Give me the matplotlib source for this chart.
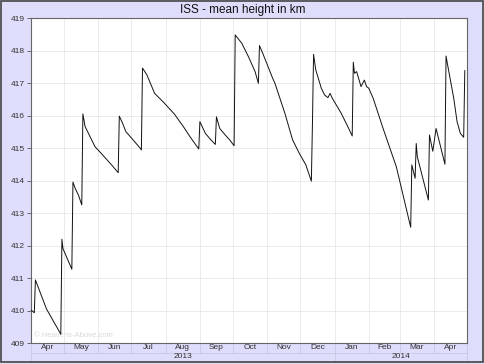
import matplotlib
matplotlib.use("Agg")
import matplotlib.pyplot as plt
import matplotlib.dates as mdates
import matplotlib.transforms as mtransforms
from matplotlib.patches import Rectangle
import numpy as np
import pandas as pd

dates = [
    "2013-04-01", "2013-04-04", "2013-04-05", "2013-04-15", "2013-04-28",
    "2013-04-29", "2013-04-30", "2013-05-08", "2013-05-09", "2013-05-11",
    "2013-05-14", "2013-05-17", "2013-05-18", "2013-05-20", "2013-05-29",
    "2013-06-04", "2013-06-13", "2013-06-19", "2013-06-20", "2013-06-23",
    "2013-06-26", "2013-07-03", "2013-07-09", "2013-07-10", "2013-07-11",
    "2013-07-15", "2013-07-22", "2013-07-30", "2013-08-09", "2013-08-17",
    "2013-08-23", "2013-08-31", "2013-09-01", "2013-09-06", "2013-09-11",
    "2013-09-15", "2013-09-16", "2013-09-19", "2013-09-24", "2013-09-28",
    "2013-10-02", "2013-10-03", "2013-10-09", "2013-10-15", "2013-10-21",
    "2013-10-24", "2013-10-25", "2013-10-28", "2013-11-06", "2013-11-08",
    "2013-11-17", "2013-11-24", "2013-11-30", "2013-12-06", "2013-12-11",
    "2013-12-12", "2013-12-13", "2013-12-15", "2013-12-20", "2013-12-23",
    "2013-12-26", "2013-12-28", "2013-12-30", "2014-01-07", "2014-01-13",
    "2014-01-17", "2014-01-18", "2014-01-19", "2014-01-21", "2014-01-25",
    "2014-01-28", "2014-01-30", "2014-02-01", "2014-02-05", "2014-02-14",
    "2014-02-26", "2014-03-11", "2014-03-12", "2014-03-15", "2014-03-16",
    "2014-03-17", "2014-03-27", "2014-03-28", "2014-03-31", "2014-04-03",
    "2014-04-11", "2014-04-12", "2014-04-14", "2014-04-19", "2014-04-22",
    "2014-04-25", "2014-04-28", "2014-04-29",
]
heights = [
    410.02, 409.93, 410.94, 410.05, 409.27,
    412.19, 411.90, 411.27, 413.95, 413.76,
    413.55, 413.25, 416.05, 415.66, 415.04,
    414.82, 414.48, 414.24, 415.98, 415.76,
    415.50, 415.23, 414.99, 414.94, 417.46,
    417.25, 416.68, 416.41, 416.04, 415.66,
    415.35, 414.97, 415.81, 415.45, 415.25,
    415.11, 415.96, 415.60, 415.40, 415.25,
    415.07, 418.48, 418.22, 417.81, 417.35,
    416.99, 418.15, 417.91, 417.14, 416.99,
    416.07, 415.25, 414.84, 414.48, 413.98,
    415.80, 417.88, 417.40, 416.84, 416.63,
    416.55, 416.68, 416.53, 416.07, 415.66,
    415.37, 417.64, 417.30, 417.35, 416.89,
    417.09, 416.89, 416.84, 416.53, 415.60,
    414.42, 412.56, 414.48, 414.07, 415.14,
    414.73, 413.40, 415.40, 414.90, 415.60,
    414.50, 417.83, 417.45, 416.53, 415.81,
    415.45, 415.33, 417.38,
]
month_labels = ["Apr", "May", "Jun", "Jul", "Aug", "Sep", "Oct", "Nov",
                "Dec", "Jan", "Feb", "Mar", "Apr"]
year_labels = ["2013", "2014"]
y_ticks = list(range(409, 420))
title = "ISS - mean height in km"
watermark = "\u00a9 Heavens-Above.com"

plt.rcParams['font.family'] = ['Liberation Sans', 'DejaVu Sans']

W, H = 485, 364
fig = plt.figure(figsize=(W / 100, H / 100), dpi=100)
bg = '#dedefc'
fig.patch.set_facecolor(bg)

l, r, t, b = 31, 467, 18, 343
ax = fig.add_axes([l / W, 1 - b / H, (r - l) / W, (b - t) / H])
ax.set_facecolor('white')

x = pd.to_datetime(dates)
ax.plot(x, heights, color='#111111', lw=0.7, zorder=3)

start = pd.Timestamp("2013-04-01")
end = pd.Timestamp("2014-05-01")
ax.set_xlim(start, end)
ax.set_ylim(409, 419)
ax.set_yticks(y_ticks)
ax.set_yticklabels([str(v) for v in y_ticks], fontsize=6, color='#333333')
ax.tick_params(axis='y', length=3, width=0.6, color='#555555', pad=1.5)

month_starts = pd.date_range(start, end, freq='MS')
ax.set_xticks(month_starts)
ax.set_xticklabels([])
ax.tick_params(axis='x', length=0)
ax.grid(True, color='#e8e8e8', lw=0.6, zorder=0)

for s in ax.spines.values():
    s.set_color('#666666')
    s.set_linewidth(0.8)

# bottom label rows
trans = mtransforms.blended_transform_factory(ax.transData, ax.transAxes)
row1 = (352.5 - b) / (b - t)
row2 = (361.5 - b) / (b - t)
for ms in month_starts:
    ax.plot([ms, ms], [0, -row1], transform=trans, color='#c8c8e0',
            lw=0.6, clip_on=False)
for ms in [month_starts[0], pd.Timestamp("2014-01-01"), month_starts[-1]]:
    ax.plot([ms, ms], [-row1, -row2], transform=trans, color='#c8c8e0',
            lw=0.6, clip_on=False)
ax.plot([start, end], [-row1, -row1], transform=trans, color='#c8c8e0',
        lw=0.6, clip_on=False)

for i, lab in enumerate(month_labels):
    mid = month_starts[i] + (month_starts[i + 1] - month_starts[i]) / 2
    ax.text(mid, -row1 / 2, lab, transform=trans, fontsize=6,
            color='#333333', ha='center', va='center')

year_bounds = [(start, pd.Timestamp("2014-01-01")),
               (pd.Timestamp("2014-01-01"), end)]
for lab, (a0, a1) in zip(year_labels, year_bounds):
    mid = a0 + (a1 - a0) / 2
    ax.text(mid, -(row1 + row2) / 2, lab, transform=trans, fontsize=6,
            color='#333333', ha='center', va='center')

ax.text(0.006, 0.012, watermark, transform=ax.transAxes, fontsize=5.5,
        color='#d8d8d8', ha='left', va='bottom', zorder=1)

fig.text(242.5 / W, 1 - 9.5 / H, title, fontsize=8.5, color='#111111',
         ha='center', va='center')

fig.patches.append(Rectangle((0.5 / W, 2 / H), 482.5 / W, 361.5 / H,
                             transform=fig.transFigure, fill=False,
                             edgecolor='#444444', lw=1.2))

fig.savefig("out.png", dpi=100, facecolor=bg)
